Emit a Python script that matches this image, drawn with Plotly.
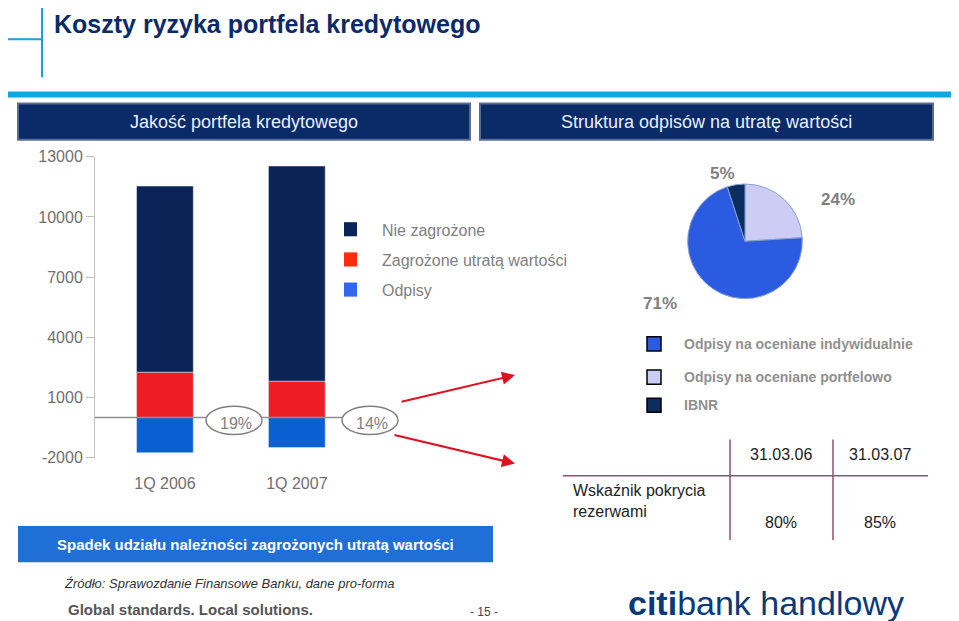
import plotly.graph_objects as go

categories = ["1Q 2006", "1Q 2007"]
nie_zagrozone = [9280, 10730]
zagrozone = [2260, 1810]
odpisy = [-1760, -1500]
ratio_labels = ["19%", "14%"]
y_ticks = [-2000, 1000, 4000, 7000, 10000, 13000]
pie_labels = ["Odpisy na oceniane portfelowo", "Odpisy na oceniane indywidualnie", "IBNR"]
pie_values = [24, 71, 5]
pie_colors = ["#ccccf5", "#2b5be0", "#0b2e5e"]
table_cols = ["31.03.06", "31.03.07"]
table_vals = ["80%", "85%"]

W, H = 959, 621
def px(x): return (x - 8) / W
def py(y): return 1 - ((y - 17) / 0.967) / H

fig = go.Figure()
fig.add_bar(x=categories, y=zagrozone, name="Zagrożone utratą wartości", marker_color="#ee1c25", width=0.43, showlegend=False)
fig.add_bar(x=categories, y=nie_zagrozone, name="Nie zagrożone", marker_color="#0a2458", width=0.43, showlegend=False)
fig.add_bar(x=categories, y=odpisy, name="Odpisy", marker_color="#0a60d0", width=0.43, showlegend=False)

fig.add_pie(values=pie_values, labels=pie_labels, marker=dict(colors=pie_colors, line=dict(color="#8aa0d0", width=1)),
            sort=False, direction="clockwise", rotation=0, textinfo="none",
            domain=dict(x=[px(685), px(805)], y=[py(298), py(184)]), showlegend=False, hoverinfo="label+percent")

fig.update_layout(
    width=W, height=H, margin=dict(l=0, r=0, t=0, b=0), barmode="relative",
    plot_bgcolor="white", paper_bgcolor="white",
    font=dict(family="Liberation Sans, Arial", color="#808080"),
    xaxis=dict(domain=[px(95), px(500)], range=[-0.53, 2.54], showline=False, ticks="",
               tickfont=dict(size=16, color="#707070"), ticklabelstandoff=14),
    yaxis=dict(domain=[py(456), py(157)], range=[-2000, 13000], tickvals=y_ticks, ticktext=[str(v) for v in y_ticks],
               showgrid=False, zeroline=False, showline=True, linecolor="#c0c0c0", ticks="outside",
               tickcolor="#c0c0c0", ticklen=8, tickfont=dict(size=16, color="#707070")),
)

shapes = []
ann = []
def txt(t, x, y, size, color, xa="center", **kw):
    d = dict(text=t, x=px(x), y=py(y), xref="paper", yref="paper", xanchor=xa, yanchor="middle",
             showarrow=False, font=dict(size=size, color=color))
    d.update(kw)
    ann.append(d)

shapes.append(dict(type="line", xref="paper", yref="paper", x0=px(42), x1=px(42), y0=py(0), y1=py(78), line=dict(color="#1aa0dc", width=2)))
shapes.append(dict(type="line", xref="paper", yref="paper", x0=px(3), x1=px(42), y0=py(40), y1=py(40), line=dict(color="#1aa0dc", width=2)))
shapes.append(dict(type="rect", xref="paper", yref="paper", x0=px(3), x1=px(955), y0=py(98), y1=py(92), fillcolor="#10a8e0", line=dict(width=0)))
txt("<b>Koszty ryzyka portfela kredytowego</b>", 52, 25, 25, "#0a2a6a", xa="left")
for (x0, x1, t) in [(18, 470, "Jakość portfela kredytowego"), (480, 933, "Struktura odpisów na utratę wartości")]:
    shapes.append(dict(type="rect", xref="paper", yref="paper", x0=px(x0), x1=px(x1), y0=py(140), y1=py(104),
                       fillcolor="#0a2a68", line=dict(color="#5a6a90", width=2)))
    txt(t, (x0 + x1) / 2, 122, 18, "#e8f0ff")
shapes.append(dict(type="line", xref="paper", yref="y", x0=px(95), x1=px(395), y0=0, y1=0, line=dict(color="#909090", width=1.5)))
for cx, t in zip([234, 370], ratio_labels):
    shapes.append(dict(type="circle", xref="paper", yref="paper", x0=px(cx - 28), x1=px(cx + 28), y0=py(433), y1=py(405),
                       fillcolor="white", line=dict(color="#808080", width=1.5)))
    txt(t, cx + 2, 422, 16, "#808080")
for yy, c, t in [(229, "#0a2458", "Nie zagrożone"), (259, "#ff2a10", "Zagrożone utratą wartości"), (289, "#3366ee", "Odpisy")]:
    shapes.append(dict(type="rect", xref="paper", yref="paper", x0=px(344), x1=px(357), y0=py(yy + 7), y1=py(yy - 7), fillcolor=c, line=dict(width=0)))
    txt(t, 380, yy + 1, 16, "#808080", xa="left")
for (x0, y0, x1, y1) in [(400, 401, 515, 374), (393, 433, 515, 462)]:
    ann.append(dict(x=px(x1), y=py(y1), ax=x0 - x1, ay=y0 - y1, xref="paper", yref="paper", axref="pixel", ayref="pixel",
                    text="", showarrow=True, arrowhead=2, arrowsize=1.3, arrowwidth=2, arrowcolor="#e01020"))
for x, y, t in [(722, 174, "5%"), (838, 199, "24%"), (660, 303, "71%")]:
    txt("<b>" + t + "</b>", x, y, 17, "#808080")
for yy, c, t in [(343, "#2b5be0", "Odpisy na oceniane indywidualnie"), (376, "#ccccf5", "Odpisy na oceniane portfelowo"), (404, "#0b2e5e", "IBNR")]:
    shapes.append(dict(type="rect", xref="paper", yref="paper", x0=px(647), x1=px(661), y0=py(yy + 7), y1=py(yy - 7), fillcolor=c, line=dict(color="black", width=1.5)))
    txt("<b>" + t + "</b>", 682, yy, 14, "#909090", xa="left")
tc = "#9a4a78"
shapes.append(dict(type="line", xref="paper", yref="paper", x0=px(563), x1=px(928), y0=py(474), y1=py(474), line=dict(color=tc, width=1.5)))
for xx in [730, 833]:
    shapes.append(dict(type="line", xref="paper", yref="paper", x0=px(xx), x1=px(xx), y0=py(438), y1=py(538), line=dict(color=tc, width=1.5)))
for xx, t, v in zip([781, 880], table_cols, table_vals):
    txt(t, xx, 453, 16, "#222")
    txt(v, xx, 521, 16, "#222")
txt("Wskaźnik pokrycia<br>rezerwami", 571, 499, 16, "#222", xa="left", align="left")
shapes.append(dict(type="rect", xref="paper", yref="paper", x0=px(18), x1=px(493), y0=py(560), y1=py(524), fillcolor="#1f6fd6", line=dict(width=0)))
txt("<b>Spadek udziału należności zagrożonych utratą wartości</b>", 255, 542, 15, "white")
txt("<i>Źródło: Sprawozdanie Finansowe Banku, dane pro-forma</i>", 62, 581, 13, "#333", xa="left")
txt("<b>Global standards. Local solutions.</b>", 66, 607, 15, "#555", xa="left")
txt("- 15 -", 484, 610, 12, "#444")
txt("<b>citi</b>bank handlowy", 626, 601, 34, "#0a3a7a", xa="left")
fig.update_layout(shapes=shapes, annotations=ann)
fig.write_html("out.html")
